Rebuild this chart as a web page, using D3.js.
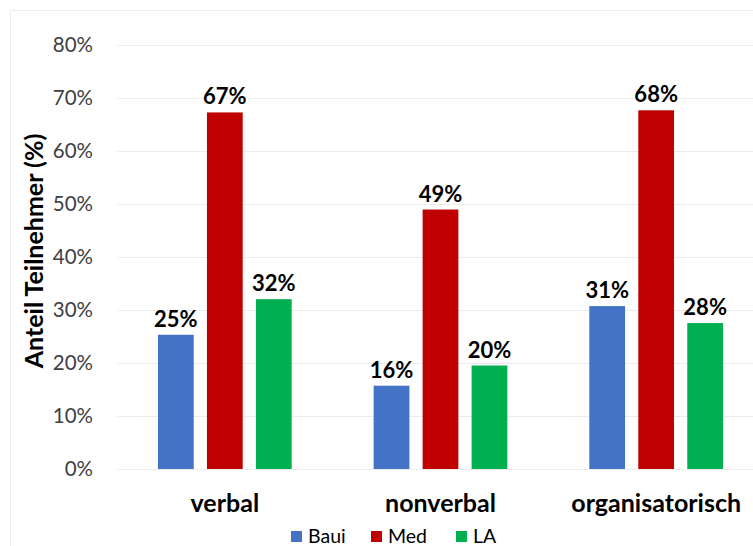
<!DOCTYPE html>
<html><head><meta charset="utf-8">
<script src="https://cdn.jsdelivr.net/npm/d3@7"></script>
<style>body{margin:0;background:#fff}svg{display:block}</style>
</head><body>
<svg id="c" width="753" height="546"></svg>
<script>
const categories = ["verbal", "nonverbal", "organisatorisch"];
const seriesNames = ["Baui", "Med", "LA"];
const baui = [25.3, 15.7, 30.7];
const med = [67.2, 48.9, 67.6];
const la = [32.0, 19.5, 27.5];
const yTicks = [0, 10, 20, 30, 40, 50, 60, 70, 80];
const colors = ["#4472C4", "#C00000", "#00B050"];
const seriesValues = [baui, med, la];

(function () {
const svg = d3.select("#c");
const font = "Lato, 'Open Sans', sans-serif";
const pLeft = 117, pRight = 764, pTop = 44.5, pBottom = 469;

// outer frame
svg.append("rect").attr("x", 10.5).attr("y", 10.5).attr("width", 800).attr("height", 600)
  .attr("fill", "none").attr("stroke", "#ececec").attr("stroke-width", 1);

const y = d3.scaleLinear().domain([0, 80]).range([pBottom, pTop]);
const x0 = d3.scaleBand().domain(categories).range([pLeft, pRight]).paddingInner(0.38).paddingOuter(0.19);
const x1 = d3.scaleBand().domain(seriesNames).range([0, x0.bandwidth()]).paddingInner(0.27);

// gridlines
svg.append("g").selectAll("line").data(yTicks).join("line")
  .attr("x1", pLeft).attr("x2", 753)
  .attr("y1", d => Math.round(y(d)) + 0.5).attr("y2", d => Math.round(y(d)) + 0.5)
  .attr("stroke", "#ececec").attr("stroke-width", 1);

// y axis labels
const yAxis = d3.axisLeft(y).tickValues(yTicks).tickFormat(d => d + "%").tickSize(0).tickPadding(0);
const gy = svg.append("g").attr("transform", "translate(93,0)").call(yAxis);
gy.select(".domain").remove();
gy.selectAll("text").attr("font-family", font).attr("font-size", 20.5).attr("fill", "#404040");

// axis title
svg.append("text").attr("transform", "translate(43,251) rotate(-90)")
  .attr("text-anchor", "middle").attr("font-family", font).attr("font-weight", "bold")
  .attr("font-size", 25).attr("fill", "#000").text("Anteil Teilnehmer (%)");

// bars
const groups = svg.append("g").selectAll("g").data(categories).join("g")
  .attr("transform", d => `translate(${x0(d)},0)`);
groups.selectAll("rect").data((c, i) => seriesNames.map((s, j) => ({s, j, v: seriesValues[j][i]})))
  .join("rect")
  .attr("x", d => x1(d.s)).attr("width", x1.bandwidth())
  .attr("y", d => y(d.v)).attr("height", d => y(0) - y(d.v))
  .attr("fill", d => colors[d.j]);
groups.selectAll("text").data((c, i) => seriesNames.map((s, j) => ({s, j, v: seriesValues[j][i]})))
  .join("text")
  .attr("x", d => x1(d.s) + x1.bandwidth() / 2).attr("y", d => y(d.v) - 8)
  .attr("text-anchor", "middle").attr("font-family", font).attr("font-weight", "bold")
  .attr("font-size", 22).attr("fill", "#000").text(d => Math.round(d.v) + "%");

// x axis labels
const xAxis = d3.axisBottom(x0).tickSize(0).tickPadding(0);
const gx = svg.append("g").attr("transform", "translate(0,512)").call(xAxis);
gx.select(".domain").remove();
gx.selectAll("text").attr("font-family", font).attr("font-weight", "bold")
  .attr("font-size", 25).attr("fill", "#000").attr("dy", 0);

// legend
const legX = [291, 371, 456];
const leg = svg.append("g").selectAll("g").data(seriesNames).join("g")
  .attr("transform", (d, i) => `translate(${legX[i]},531)`);
leg.append("rect").attr("width", 11).attr("height", 11).attr("fill", (d, i) => colors[i]);
leg.append("text").attr("x", 17).attr("y", 12).attr("font-family", font).attr("font-size", 19.5)
  .attr("fill", "#000").text(d => d);
})();
</script>
</body></html>
